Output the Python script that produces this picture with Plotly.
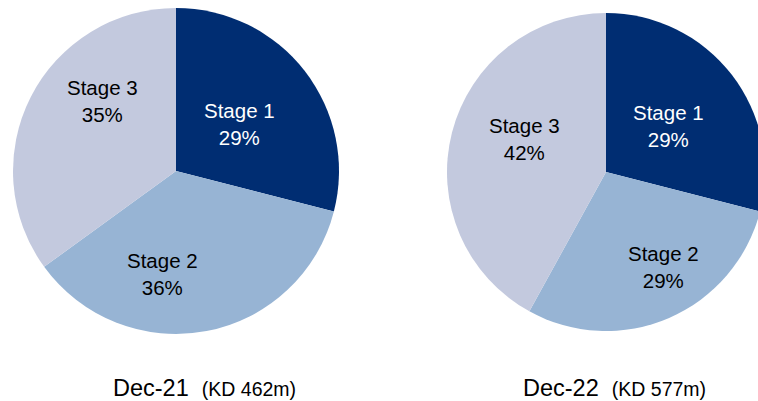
import plotly.graph_objects as go

stages = ['Stage 1', 'Stage 2', 'Stage 3']
dec21 = [29, 36, 35]
dec22 = [29, 29, 42]
titles = ['Dec-21', 'Dec-22']
totals = ['(KD 462m)', '(KD 577m)']
colors = ['#002D72', '#97B4D4', '#C3C9DE']
text_colors = ['white', 'black', 'black']

# figure is a bit wider than the window so the right pie runs off the edge
W, H = 766, 401
FONT = 'Liberation Sans, Arial'

def px(x, y):
    return x / W, 1 - y / H

def dom(cx, cy, r):
    x0, y1 = px(cx - r, cy - r)
    x1, y0 = px(cx + r, cy + r)
    return dict(x=[x0, x1], y=[y0, y1])

pies = [
    dict(vals=dec21, c=(176, 171), r=163,
         lab=[(239, 122), (162, 272), (102, 99)], title=(204, 0)),
    dict(vals=dec22, c=(606, 172), r=159,
         lab=[(668, 124), (663, 265), (524, 137)], title=(614, 1)),
]

fig = go.Figure()
for p in pies:
    cx, cy = p['c']
    fig.add_trace(go.Pie(
        labels=stages, values=p['vals'], sort=False, direction='clockwise', rotation=0,
        marker=dict(colors=colors, line=dict(width=0)),
        textinfo='none', hoverinfo='label+percent', showlegend=False,
        domain=dom(cx, cy, p['r']),
    ))
    for i, (lx, ly) in enumerate(p['lab']):
        x, y = px(lx, ly + 2)
        fig.add_annotation(
            x=x, y=y, xref='paper', yref='paper', showarrow=False,
            xanchor='center', yanchor='middle',
            text=f"{stages[i]}<br>{p['vals'][i]}%",
            font=dict(size=20.5, color=text_colors[i], family=FONT),
        )
    tx, k = p['title']
    fig.add_annotation(
        x=px(tx, 0)[0], y=0, xref='paper', yref='paper', showarrow=False,
        xanchor='center', yanchor='bottom', yshift=-2,
        text=f"{titles[k]}  <span style='font-size:19.5px'>{totals[k]}</span>",
        font=dict(size=23.5, color='black', family=FONT),
    )

fig.update_layout(width=W, height=H, margin=dict(l=0, r=0, t=0, b=0),
                  paper_bgcolor='white', plot_bgcolor='white')
fig.write_html("out.html", config={'displayModeBar': False}, post_script=(
    "document.body.style.margin='0';"
    "document.body.style.overflow='hidden';"
    "document.documentElement.style.overflow='hidden';"))
